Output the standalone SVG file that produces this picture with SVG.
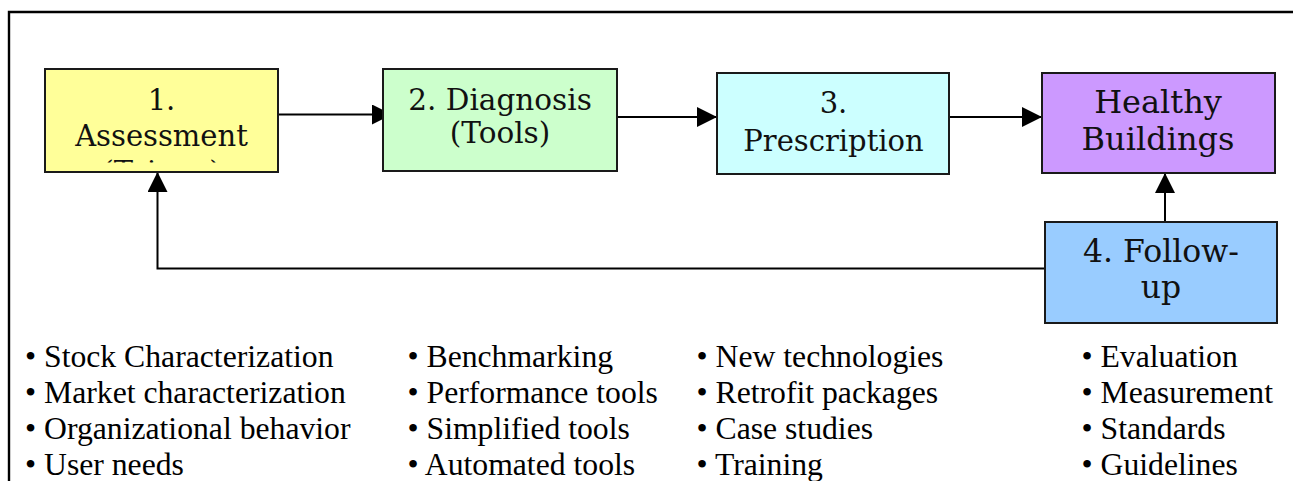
<svg xmlns="http://www.w3.org/2000/svg" width="1293" height="481" viewBox="0 0 1293 481">
  <style>
    .box { stroke: #1a1a1a; stroke-width: 2; }
    .bt { font-family: "DejaVu Serif", "Liberation Serif", serif; fill: #111; text-anchor: middle; }
    .li { font-family: "Liberation Serif", "Times New Roman", serif; font-size: 31.7px; fill: #000; }
    .con { fill: none; stroke: #000; stroke-width: 2; }
    .frame { fill: none; stroke: #000; stroke-width: 2.4; }
  </style>
  <defs>
    <marker id="ah" viewBox="0 0 20 20" refX="20" refY="10" markerWidth="20" markerHeight="20" markerUnits="userSpaceOnUse" orient="auto">
      <path d="M0,0 L20,10 L0,20 Z" fill="#000"/>
    </marker>
    <clipPath id="clip1">
      <rect x="45" y="69" width="233" height="93.5"/>
    </clipPath>
  </defs>
  <rect width="1293" height="481" fill="#fff"/>
  <path class="frame" d="M9,481 L9,12 L1293,12"/>

  <g id="connectors">
    <line class="con" x1="278" y1="114.5" x2="392" y2="114.5" marker-end="url(#ah)"/>
    <line class="con" x1="617" y1="117" x2="717" y2="117" marker-end="url(#ah)"/>
    <line class="con" x1="949" y1="117" x2="1042" y2="117" marker-end="url(#ah)"/>
    <line class="con" x1="1165" y1="222" x2="1165" y2="173" marker-end="url(#ah)"/>
    <polyline class="con" points="1045,268.5 157.5,268.5 157.5,172" marker-end="url(#ah)"/>
  </g>

  <g id="node-assessment">
    <rect class="box" x="45" y="69" width="233" height="103" fill="#FFFF99"/>
    <g clip-path="url(#clip1)">
      <text class="bt" font-size="29" x="161.5" y="110">1.</text>
      <text class="bt" font-size="29" x="161.5" y="146">Assessment</text>
      <text class="bt" font-size="29" x="161.5" y="182">(Triage)</text>
    </g>
  </g>

  <g id="node-diagnosis">
    <rect class="box" x="383" y="69" width="234" height="102" fill="#CCFFCC"/>
    <text class="bt" font-size="29.5" x="500" y="110">2. Diagnosis</text>
    <text class="bt" font-size="29.5" x="500" y="143">(Tools)</text>
  </g>

  <g id="node-prescription">
    <rect class="box" x="717" y="73" width="232" height="101" fill="#CCFFFF"/>
    <text class="bt" font-size="29" x="833.5" y="113">3.</text>
    <text class="bt" font-size="29" x="833.5" y="151">Prescription</text>
  </g>

  <g id="node-healthy">
    <rect class="box" x="1042" y="73" width="233" height="100" fill="#CC99FF"/>
    <text class="bt" font-size="32" x="1158" y="113">Healthy</text>
    <text class="bt" font-size="32" x="1158" y="150">Buildings</text>
  </g>

  <g id="node-followup">
    <rect class="box" x="1045" y="222" width="232" height="101" fill="#99CCFF"/>
    <text class="bt" font-size="31.5" x="1161" y="262">4. Follow-</text>
    <text class="bt" font-size="31.5" x="1161" y="298">up</text>
  </g>

  <g id="list-assessment">
    <text class="li" x="25" y="367">• Stock Characterization</text>
    <text class="li" x="25" y="403">• Market characterization</text>
    <text class="li" x="25" y="439">• Organizational behavior</text>
    <text class="li" x="25" y="475">• User needs</text>
  </g>
  <g id="list-diagnosis">
    <text class="li" x="407.5" y="367">• Benchmarking</text>
    <text class="li" x="407.5" y="403">• Performance tools</text>
    <text class="li" x="407.5" y="439">• Simplified tools</text>
    <text class="li" x="407.5" y="475">• Automated tools</text>
  </g>
  <g id="list-prescription">
    <text class="li" x="696.5" y="367">• New technologies</text>
    <text class="li" x="696.5" y="403">• Retrofit packages</text>
    <text class="li" x="696.5" y="439">• Case studies</text>
    <text class="li" x="696.5" y="475">• Training</text>
  </g>
  <g id="list-followup">
    <text class="li" x="1081.5" y="367">• Evaluation</text>
    <text class="li" x="1081.5" y="403">• Measurement</text>
    <text class="li" x="1081.5" y="439">• Standards</text>
    <text class="li" x="1081.5" y="475">• Guidelines</text>
  </g>
</svg>
